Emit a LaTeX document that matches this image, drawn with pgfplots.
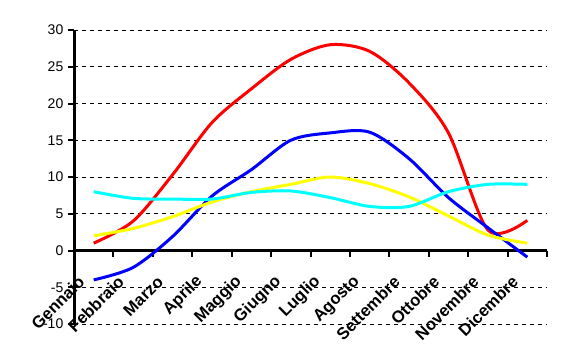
\documentclass[border=0pt]{standalone}
\usepackage{pgfplots}
\pgfplotsset{compat=1.18}
\usepackage{fontspec}
\setmainfont{Liberation Sans}
\definecolor{cRed}{RGB}{255,0,0}
\definecolor{cBlue}{RGB}{0,0,255}
\definecolor{cYellow}{RGB}{255,255,0}
\definecolor{cCyan}{RGB}{0,255,255}
\begin{document}
\begin{tikzpicture}
\useasboundingbox (0,0) rectangle (422.25pt,271.5pt);
\begin{axis}[
  at={(55.5pt,28.5pt)}, anchor=south west,
  scale only axis, width=354.75pt, height=220.5pt,
  xmin=-0.5, xmax=11.5, ymin=-10, ymax=30,
  axis y line=left, axis x line=middle,
  hide obscured x ticks=false, hide obscured y ticks=false,
  axis line style={-, line width=2.25pt, black},
  ytick={-10,-5,...,30},
  xtick={-0.5,0.5,...,11.5},
  xticklabels={},
  extra x ticks={0,1,2,3,4,5,6,7,8,9,10,11},
  extra x tick labels={Gennaio,Febbraio,Marzo,Aprile,Maggio,Giugno,Luglio,Agosto,Settembre,Ottobre,Novembre,Dicembre},
  extra x tick style={major tick length=0pt, xticklabel style={font=\fontsize{12.5}{14}\selectfont\bfseries, xshift=-6.75pt, yshift=-19pt, rotate=45, anchor=east}},
  tick align=outside,
  major tick length=4.5pt,
  every tick/.style={black, line width=1.5pt},
  ymajorgrids, grid style={black, line width=0.75pt, dash pattern=on 3pt off 3pt},
  yticklabel style={font=\fontsize{10.5}{12}\selectfont, /pgf/number format/assume math mode=true},
  every axis plot/.append style={line width=2.25pt, smooth, no markers},
]
\addplot[cRed] coordinates {(0,1)(1,4)(2,10.3)(3,17.4)(4,22)(5,26)(6,28)(7,27.1)(8,22.8)(9,16)(10,2.8)(11,4.1)};
\addplot[cBlue] coordinates {(0,-4)(1,-2.3)(2,1.9)(3,7.4)(4,11)(5,15)(6,16)(7,16.1)(8,12.5)(9,7.2)(10,3.1)(11,-0.9)};
\addplot[cYellow] coordinates {(0,2)(1,3)(2,4.6)(3,6.6)(4,8)(5,9)(6,10)(7,9.1)(8,7.3)(9,4.7)(10,2.1)(11,1)};
\addplot[cCyan] coordinates {(0,8)(1,7.1)(2,7)(3,7)(4,7.9)(5,8.1)(6,7.2)(7,6)(8,6)(9,8)(10,9)(11,9)};
\end{axis}
\end{tikzpicture}
\end{document}
